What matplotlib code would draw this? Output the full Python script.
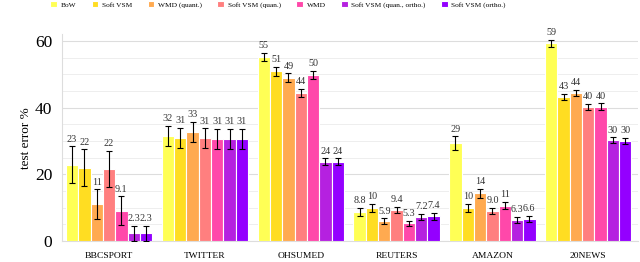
import matplotlib
matplotlib.use("Agg")
import matplotlib.pyplot as plt
import numpy as np

categories = ["BBCSPORT", "TWITTER", "OHSUMED", "REUTERS", "AMAZON", "20NEWS"]
methods = ["BoW", "Soft VSM", "WMD (quant.)", "Soft VSM (quan.)", "WMD",
           "Soft VSM (quan., ortho.)", "Soft VSM (ortho.)"]
colors = ["#ffff55", "#ffdd22", "#ffaa50", "#ff7f7f", "#ff48aa", "#b521e0", "#9400ff"]

# values[method][category]
values = [
    [22.9, 31.6, 55.2, 8.8, 29.4, 59.3],   # BoW
    [22.0, 31.0, 50.9, 10.0, 10.0, 43.2],  # Soft VSM
    [11.0, 32.8, 49.0, 5.9, 14.3, 44.4],   # WMD (quant.)
    [21.6, 30.8, 44.4, 9.4, 9.0, 40.2],    # Soft VSM (quan.)
    [9.1, 30.6, 49.8, 5.3, 10.6, 40.3],    # WMD
    [2.3, 30.6, 23.8, 7.2, 6.3, 30.2],     # Soft VSM (quan., ortho.)
    [2.3, 30.6, 23.8, 7.4, 6.6, 30.0],     # Soft VSM (ortho.)
]
errors = [
    [5.5, 3.0, 1.3, 1.2, 2.0, 1.0],
    [5.5, 3.0, 1.3, 1.2, 1.2, 1.0],
    [4.5, 3.0, 1.3, 0.9, 1.3, 1.0],
    [5.5, 3.0, 1.3, 0.9, 1.0, 1.0],
    [4.3, 3.0, 1.3, 0.8, 1.1, 1.0],
    [2.3, 3.0, 1.0, 1.0, 0.9, 0.9],
    [2.3, 3.0, 1.0, 1.0, 0.9, 0.9],
]

plt.rcParams['font.family'] = ['Liberation Serif', 'DejaVu Serif']

fig = plt.figure(figsize=(6.4, 2.62), dpi=100)
ax = fig.add_axes([0.097, 0.080, 0.90, 0.789])

n = len(methods)
group_w = 0.9
bw = group_w / n
x = np.arange(len(categories))

for i, (m, c) in enumerate(zip(methods, colors)):
    pos = x - group_w / 2 + bw * (i + 0.5)
    ax.bar(pos, values[i], width=bw, color=c, edgecolor="white", linewidth=0.8,
           label=m, zorder=3)
    ax.errorbar(pos, values[i], yerr=errors[i], fmt="none", ecolor="black",
                elinewidth=0.8, capsize=2, capthick=0.8, zorder=4)
    for p, v, e in zip(pos, values[i], errors[i]):
        lab = f"{v:.1f}" if v < 10 else f"{v:.0f}"
        ax.text(p, v + e + 0.8, lab, ha="center", va="bottom", fontsize=7.3,
                color="#333333", zorder=5)

ax.set_xlim(-0.49, 5.52)
ax.set_ylim(0, 62)
ax.set_yticks([0, 20, 40, 60])
ax.set_yticks(np.arange(0, 61, 5), minor=True)
ax.tick_params(axis="y", which="both", length=0, labelsize=12.5, pad=7)
ax.tick_params(axis="x", length=0, labelsize=6.8, pad=8)
ax.set_xticks(x)
ax.set_xticklabels(categories)
ax.grid(axis="y", which="major", color="#dddddd", linewidth=0.8, zorder=0)
ax.grid(axis="y", which="minor", color="#eeeeee", linewidth=0.7, zorder=0)
ax.set_axisbelow(True)
for s in ["top", "right"]:
    ax.spines[s].set_visible(False)
for s in ["left", "bottom"]:
    ax.spines[s].set_color("#dddddd")
    ax.spines[s].set_linewidth(0.8)
ax.set_ylabel("test error %", fontsize=9.5, labelpad=2)

handles, labels = ax.get_legend_handles_labels()
leg = fig.legend(handles, labels, loc="upper left", bbox_to_anchor=(0.068, 1.02),
                 ncol=7, frameon=False, fontsize=5.3, handlelength=0.9,
                 handleheight=0.9, handletextpad=0.5, columnspacing=2.1)

fig.savefig("out.png", dpi=100)
